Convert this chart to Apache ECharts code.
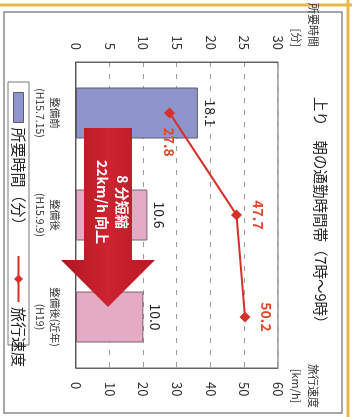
<!DOCTYPE html>
<html>
<head>
<meta charset="utf-8">
<script src="https://cdn.jsdelivr.net/npm/echarts@6/dist/echarts.min.js"></script>
<style>
    html, body { margin: 0; padding: 0; background: #fff; }
    body { width: 352px; height: 417px; overflow: hidden; position: relative; }
    /* chart is drawn upright (417x352) and turned a quarter clockwise like the scan */
    #chart {
        position: absolute; left: 0; top: 0;
        width: 417px; height: 352px;
        transform-origin: 0 0;
        transform: translateX(352px) rotate(90deg);
    }
</style>
</head>
<body>
<div id="chart"></div>
<script>
const categories = ["整備前\n(H15.7.15)", "整備後\n(H15.9.9)", "整備後(近年)\n(H19)"];
const timeValues = [18.1, 10.6, 10.0];   // 所要時間 [分]
const speedValues = [27.8, 47.7, 50.2];  // 旅行速度 [km/h]
const barColors = ["#8e95cc", "#e5abc4", "#e5abc4"];
const speedLabelPos = ["right", "top", "top"];

const FONT = "Noto Sans CJK JP";

const chart = echarts.init(document.getElementById("chart"), null, { renderer: "canvas" });

chart.setOption({
    backgroundColor: "#fff",
    textStyle: { fontFamily: FONT },
    animation: false,
    title: {
        text: "上り　朝の通勤時間帯（7時～9時）",
        left: 97,
        top: 24,
        padding: 0,
        textStyle: { fontFamily: FONT, fontSize: 14.5, fontWeight: "normal", color: "#222" }
    },
    legend: [
        {
            data: [{ name: "所要時間（分）", icon: "rect" }],
            left: 92,
            top: 326,
            padding: 0,
            itemWidth: 30,
            itemHeight: 10,
            itemStyle: { borderColor: "#5a5a6a", borderWidth: 1 },
            textStyle: { fontFamily: FONT, fontSize: 15, color: "#222" }
        },
        {
            data: ["旅行速度"],
            left: 255,
            top: 326,
            padding: 0,
            itemWidth: 46,
            itemHeight: 11,
            textStyle: { fontFamily: FONT, fontSize: 15, color: "#222" }
        }
    ],
    grid: {
        left: 62,
        right: 49,
        top: 74,
        bottom: 76,
        show: true,
        borderColor: "#666",
        borderWidth: 1,
        backgroundColor: "#fff"
    },
    xAxis: {
        type: "category",
        data: categories,
        axisLine: { lineStyle: { color: "#555" } },
        axisTick: { show: false },
        axisLabel: { fontFamily: FONT, fontSize: 10.5, lineHeight: 15, margin: 14, color: "#333" }
    },
    yAxis: [
        {
            type: "value",
            min: 0,
            max: 30,
            interval: 5,
            name: "所要時間\n[分]",
            nameLocation: "end",
            nameGap: 10,
            nameTextStyle: {
                fontFamily: FONT, fontSize: 11, lineHeight: 17, color: "#333",
                align: "right", verticalAlign: "bottom", padding: [0, 15, 0, 0]
            },
            axisLine: { show: true, lineStyle: { color: "#666" } },
            axisTick: { show: false },
            axisLabel: { fontSize: 13, margin: 12, color: "#333" },
            splitLine: { lineStyle: { color: "#9a9a9a", type: [5, 7] } }
        },
        {
            type: "value",
            min: 0,
            max: 60,
            interval: 10,
            name: "旅行速度\n[km/h]",
            nameLocation: "end",
            nameGap: 10,
            nameTextStyle: {
                fontFamily: FONT, fontSize: 11, lineHeight: 17, color: "#333",
                align: "center", verticalAlign: "bottom", padding: [0, 0, 0, 36]
            },
            axisLine: { show: true, lineStyle: { color: "#666" } },
            axisTick: { show: false },
            axisLabel: { fontSize: 13, margin: 14, color: "#333" },
            splitLine: { show: false }
        }
    ],
    series: [
        {
            name: "所要時間（分）",
            type: "bar",
            barWidth: "50%",
            itemStyle: { color: barColors[0], borderColor: "#5a5a6a", borderWidth: 1 },
            data: timeValues.map((v, i) => ({
                value: v,
                itemStyle: { color: barColors[i], borderColor: i === 0 ? "#5a5a6a" : "#7a6270" }
            })),
            label: {
                show: true,
                position: "top",
                distance: 5,
                fontSize: 14,
                color: "#222",
                formatter: p => p.value.toFixed(1)
            },
            z: 2
        },
        {
            name: "旅行速度",
            type: "line",
            yAxisIndex: 1,
            symbol: "diamond",
            symbolSize: 11,
            itemStyle: { color: "#d6302a" },
            lineStyle: { color: "#d6302a", width: 2 },
            data: speedValues.map((v, i) => ({
                value: v,
                label: { position: speedLabelPos[i] }
            })),
            label: {
                show: true,
                distance: 9,
                fontSize: 14,
                fontWeight: "bold",
                color: "#e0482a",
                formatter: p => p.value.toFixed(1)
            },
            z: 4
        }
    ],
    graphic: [
        // page frame
        { type: "line", shape: { x1: 5, y1: 0, x2: 5, y2: 352 }, style: { stroke: "#e8b84a", lineWidth: 3 }, z: 0 },
        { type: "line", shape: { x1: 0, y1: 4, x2: 417, y2: 4 }, style: { stroke: "#e8b84a", lineWidth: 3 }, z: 0 },
        { type: "rect", shape: { x: 12, y: 10, width: 401, height: 338 }, style: { fill: null, stroke: "#8a8a8a", lineWidth: 1.5 }, z: 0 },
        // legend box
        { type: "rect", shape: { x: 82, y: 323, width: 263, height: 21 }, style: { fill: "#fff", stroke: "#777", lineWidth: 1 }, z: 0 },
        // big arrow
        {
            type: "polygon",
            shape: {
                points: [[128, 220], [260, 220], [260, 197], [307, 244], [260, 291], [260, 268], [128, 268]]
            },
            style: {
                fill: new echarts.graphic.LinearGradient(0, 0, 0, 1, [
                    { offset: 0, color: "#b81824" },
                    { offset: 0.5, color: "#cc2430" },
                    { offset: 1, color: "#b01520" }
                ])
            },
            z: 10
        },
        {
            type: "text",
            x: 202,
            y: 240,
            style: {
                text: "8 分短縮\n22km/h 向上",
                fill: "#fff",
                font: "bold 14px 'Noto Sans CJK JP'",
                align: "center",
                verticalAlign: "middle",
                lineHeight: 20
            },
            z: 11
        }
    ]
});
</script>
</body>
</html>
